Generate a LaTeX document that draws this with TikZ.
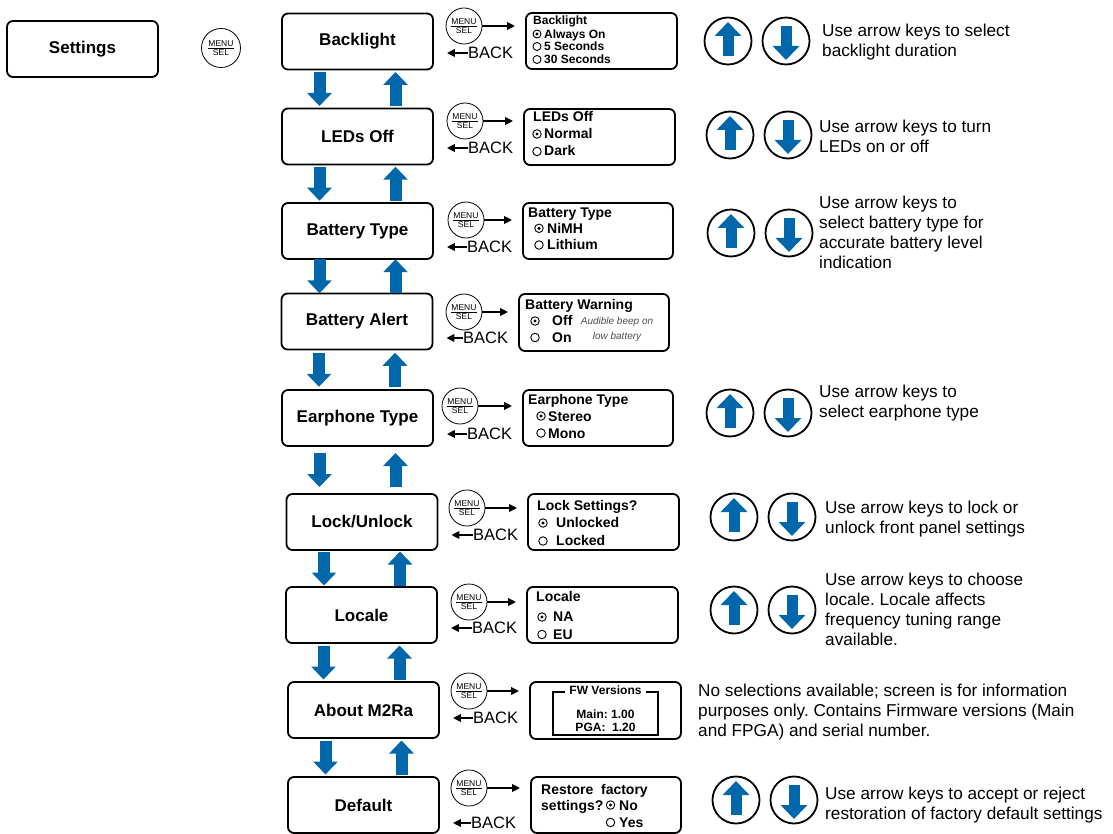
\documentclass[tikz,border=0pt]{standalone}
\usepackage{fontspec}
\setmainfont{Liberation Sans}
\usetikzlibrary{arrows.meta,calc}
\definecolor{navblue}{HTML}{0067AB}
\newcommand\fsz[2]{\fontsize{#1}{#2}\selectfont}
\newcommand\navpair[2]{%
  \coordinate (g#1) at ($(#1.south)!0.5!(#1.south |- #2.north)$);
  \draw[navarr] ([xshift=-38pt,yshift=17pt]g#1) -- ([xshift=-38pt,yshift=-17pt]g#1);
  \draw[navarr] ([xshift=38pt,yshift=-17pt]g#1) -- ([xshift=38pt,yshift=17pt]g#1);
}
\newcommand\keypair[3]{%
  \node[keybtn] (#1u) at (#2,#3) {};
  \node[keybtn] (#1d) at ({#2+58},#3) {};
  \draw[keyarr] ([yshift=-15pt]#1u.center) -- ([yshift=19pt]#1u.center);
  \draw[keyarr] ([yshift=15pt]#1d.center) -- ([yshift=-19pt]#1d.center);
}
\frenchspacing
\begin{document}
\frenchspacing
\begin{tikzpicture}[x=1pt,y=-1pt,
  menubox/.style={draw, line width=1.8pt, rounded corners=6pt, minimum width=151pt, minimum height=56pt, inner sep=0pt, font=\bfseries\fsz{17}{20}},
  scrbox/.style={draw, line width=1.8pt, rounded corners=6pt, minimum height=56pt, inner sep=0pt},
  selbtn/.style={draw, circle, line width=0.8pt, minimum size=36pt, inner sep=0pt, font=\fsz{8.5}{9}, align=center},
  keybtn/.style={draw, circle, line width=1.8pt, minimum size=47pt, inner sep=0pt},
  navarr/.style={draw=navblue, line width=12pt, -{Triangle[width=24pt,length=13pt]}},
  keyarr/.style={draw=navblue, line width=11pt, -{Triangle[width=26pt,length=14pt]}},
  fwd/.style={line width=2.2pt, -{Triangle[width=7.5pt,length=8pt]}},
  backlbl/.style={anchor=west, inner sep=0pt, font=\fsz{16.5}{18}},
  desc/.style={anchor=north west, inner sep=0pt, align=left, font=\fsz{17.2}{20}},
  st/.style={anchor=base west, inner sep=0pt, font=\bfseries\fsz{14}{16}},
  sts/.style={anchor=base west, inner sep=0pt, font=\bfseries\fsz{12}{13}},
  radio/.style={draw, circle, line width=0.9pt, minimum size=8.5pt, inner sep=0pt},
  radioon/.style={radio, path picture={\fill (path picture bounding box.center) circle (1.7pt);}},
]
\useasboundingbox (0,0) rectangle (1113,834);

% Settings
\node[menubox] (set) at (82.5,49) {Settings};
\node[selbtn, minimum size=39pt] (mset) at (221,48) {\underline{MENU}\\SEL};

% menu boxes
\node[menubox] (bBL) at (357.5,41.5) {Backlight};
\node[menubox] (bLED) at (357.5,136.5) {LEDs Off};
\node[menubox] (bBT) at (357.5,231) {Battery Type};
\node[menubox] (bBA) at (357,321.5) {Battery Alert};
\node[menubox] (bEP) at (357.5,418) {Earphone Type};
\node[menubox] (bLK) at (362,522) {Lock/Unlock};
\node[menubox] (bLC) at (361.5,615) {Locale};
\node[menubox] (bAB) at (363.5,710) {About M2Ra};
\node[menubox] (bDF) at (363.5,805) {Default};

\navpair{bBL}{bLED}
\navpair{bLED}{bBT}
\navpair{bBT}{bBA}
\navpair{bBA}{bEP}
\navpair{bEP}{bLK}
\navpair{bLK}{bLC}
\navpair{bLC}{bAB}
\navpair{bAB}{bDF}

% MENU/SEL buttons
\node[selbtn] (mBL) at (464,26) {\underline{MENU}\\SEL};
\node[selbtn] (mLED) at (465,121) {\underline{MENU}\\SEL};
\node[selbtn] (mBT) at (466,220) {\underline{MENU}\\SEL};
\node[selbtn] (mBA) at (464,312) {\underline{MENU}\\SEL};
\node[selbtn] (mEP) at (460,406) {\underline{MENU}\\SEL};
\node[selbtn] (mLK) at (467,508) {\underline{MENU}\\SEL};
\node[selbtn] (mLC) at (469,602) {\underline{MENU}\\SEL};
\node[selbtn] (mAB) at (469,691) {\underline{MENU}\\SEL};
\node[selbtn] (mDF) at (469,788) {\underline{MENU}\\SEL};

% screens
\node[scrbox, minimum width=151pt] (sBL) at (601.5,41) {};
\node[scrbox, minimum width=151pt] (sLED) at (599.5,137) {};
\node[scrbox, minimum width=150pt] (sBT) at (598,231) {};
\node[scrbox, minimum width=150pt, minimum height=57pt] (sBA) at (594,322.5) {};
\node[scrbox, minimum width=150pt] (sEP) at (598,418) {};
\node[scrbox, minimum width=151pt] (sLK) at (603.5,522) {};
\node[scrbox, minimum width=151pt] (sLC) at (602.5,615) {};
\node[scrbox, minimum width=151pt, minimum height=57pt] (sAB) at (605.5,710.5) {};
\node[scrbox, minimum width=150pt] (sDF) at (606,805) {};

% forward arrows
\foreach \r in {BL,LED,BT,BA,EP,LK,LC,AB,DF}{
  \draw[fwd, shorten >=10pt] (m\r.east) -- (m\r.east -| s\r.west);
}

% BACK labels and arrows
\node[backlbl] (kBL) at (468,53) {BACK};
\node[backlbl] (kLED) at (468,148) {BACK};
\node[backlbl] (kBT) at (467,247) {BACK};
\node[backlbl] (kBA) at (463,338) {BACK};
\node[backlbl] (kEP) at (467,434) {BACK};
\node[backlbl] (kLK) at (473,535) {BACK};
\node[backlbl] (kLC) at (472,628) {BACK};
\node[backlbl] (kAB) at (473,718) {BACK};
\node[backlbl] (kDF) at (471,823) {BACK};
\foreach \r in {BL,LED,BT,BA,EP,LK,LC,AB,DF}{
  \draw[fwd, shorten >=13pt] (k\r.west) -- (k\r.west -| b\r.east);
}

% screen texts: Backlight
\node[sts] (tBL0) at (533,24.3) {Backlight};
\node[radioon, minimum size=8pt] (rBL1) at (537,34) {};
\node[sts] (tBL1) at (544,38.3) {Always On};
\node[radio, minimum size=8pt] (rBL2) at (537,46.5) {};
\node[sts] (tBL2) at (544,50.8) {5 Seconds};
\node[radio, minimum size=8pt] (rBL3) at (537,59.5) {};
\node[sts] (tBL3) at (544,63.8) {30 Seconds};
% LEDs Off
\node[st] (tLED0) at (533,121.7) {LEDs Off};
\node[radioon] (rLED1) at (537,134) {};
\node[st] (tLED1) at (544,139) {Normal};
\node[radio] (rLED2) at (537,151.5) {};
\node[st] (tLED2) at (544,156) {Dark};
% Battery Type
\node[st] (tBT0) at (528,217.3) {Battery Type};
\node[radioon] (rBT1) at (539,228.3) {};
\node[st] (tBT1) at (547,233.3) {NiMH};
\node[radio] (rBT2) at (539,245) {};
\node[st] (tBT2) at (547,250) {Lithium};
% Battery Warning
\node[st] (tBA0) at (525,309) {Battery Warning};
\node[radioon] (rBA1) at (535,321) {};
\node[st] (tBA1) at (552,325.7) {Off};
\node[radio] (rBA2) at (535,337.5) {};
\node[st] (tBA2) at (552,342.5) {On};
\node[anchor=base, inner sep=0pt, font=\itshape\fsz{10}{12}, text=black!70] (tBA3) at (617,324) {Audible beep on};
\node[anchor=base, inner sep=0pt, font=\itshape\fsz{10}{12}, text=black!70] (tBA4) at (617,339) {low battery};
% Earphone Type
\node[st] (tEP0) at (528,404.3) {Earphone Type};
\node[radioon] (rEP1) at (541,416) {};
\node[st] (tEP1) at (548,421) {Stereo};
\node[radio] (rEP2) at (541,433) {};
\node[st] (tEP2) at (548,438) {Mono};
% Lock Settings
\node[st] (tLK0) at (537,510) {Lock Settings?};
\node[radioon] (rLK1) at (543,523) {};
\node[st] (tLK1) at (556,527.7) {Unlocked};
\node[radio] (rLK2) at (543,541) {};
\node[st] (tLK2) at (556,545) {Locked};
% Locale
\node[st] (tLC0) at (536,601) {Locale};
\node[radioon] (rLC1) at (542,617) {};
\node[st] (tLC1) at (553,621.7) {NA};
\node[radio] (rLC2) at (542,634.5) {};
\node[st] (tLC2) at (553,639) {EU};
% FW Versions
\draw[line width=1.2pt] (553,692) rectangle (658,735);
\node[fill=white, inner xsep=4pt, inner ysep=1pt, font=\bfseries\fsz{12}{13}] (tAB0) at (605.5,690) {FW Versions};
\node[anchor=base, inner sep=0pt, font=\bfseries\fsz{12}{13}] (tAB1) at (605.5,718.3) {Main: 1.00};
\node[anchor=base, inner sep=0pt, font=\bfseries\fsz{12}{13}] (tAB2) at (605.5,731.3) {PGA:\ \ 1.20};
% Restore
\node[st] (tDF0) at (541,794) {Restore\ \ factory};
\node[st] (tDF1) at (541,810) {settings?};
\node[radioon] (rDF1) at (610.5,805) {};
\node[st] (tDF2) at (619,810) {No};
\node[radio] (rDF2) at (610.5,822.5) {};
\node[st] (tDF3) at (619,827.5) {Yes};

% arrow keys and descriptions
\keypair{aBL}{728}{41}
\node[desc] (dBL) at (822,24) {Use arrow keys to select\\backlight duration};
\keypair{aLED}{730}{135}
\node[desc] (dLED) at (819,120) {Use arrow keys to turn\\LEDs on or off};
\keypair{aBT}{731}{233}
\node[desc] (dBT) at (819,196) {Use arrow keys to\\select battery type for\\accurate battery level\\indication};
\keypair{aEP}{730}{413}
\node[desc] (dEP) at (819,385) {Use arrow keys to\\select earphone type};
\keypair{aLK}{734}{517}
\node[desc] (dLK) at (825,501) {Use arrow keys to lock or\\unlock front panel settings};
\keypair{aLC}{734}{610}
\node[desc] (dLC) at (825,573) {Use arrow keys to choose\\locale. Locale affects\\frequency tuning range\\available.};
\node[desc] (dAB) at (698,684) {No selections available; screen is for information\\purposes only. Contains Firmware versions (Main\\and FPGA) and serial number.};
\keypair{aDF}{736}{800}
\node[desc] (dDF) at (825,787) {Use arrow keys to accept or reject\\restoration of factory default settings};
\end{tikzpicture}
\end{document}
